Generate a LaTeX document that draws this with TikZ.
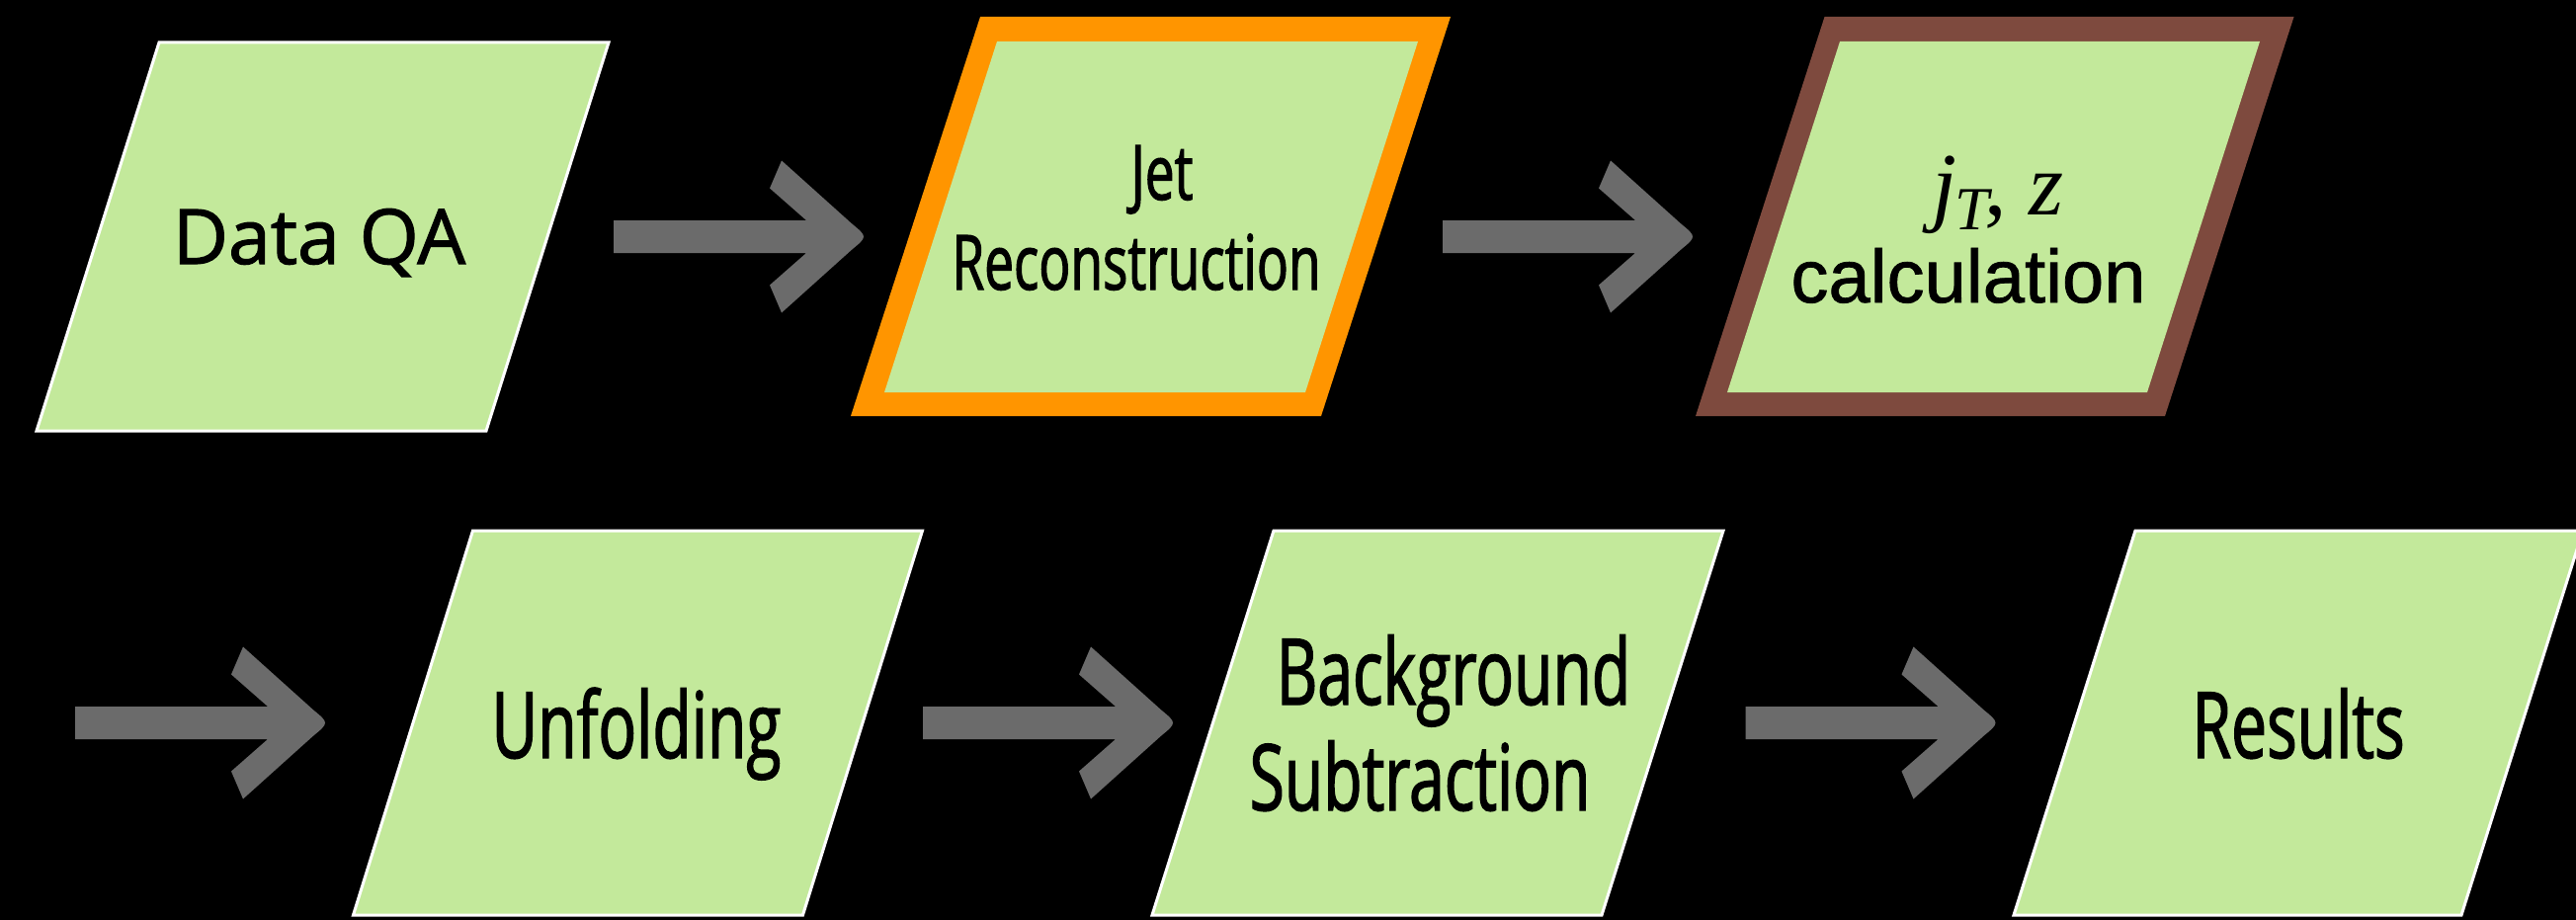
\documentclass[tikz,border=0pt]{standalone}
\usepackage{fontspec}
\newfontfamily\lbl{Open Sans}[FakeStretch=0.69,FakeBold=1.5]
\newfontfamily\lblwide{Open Sans}[FakeBold=1.5]
\newfontfamily\helv{Liberation Sans}[FakeBold=1]
\newfontfamily\tms{Liberation Serif}

\definecolor{boxgreen}{HTML}{C3E99B}
\definecolor{jetorange}{HTML}{FF9500}
\definecolor{calcbrown}{HTML}{7E4A3E}
\definecolor{arrowgrey}{HTML}{6B6B6B}

% slanted box: style, centre name, lower-left x, lower-left y, width, height, slant
\newcommand\parabox[7]{%
  \path[#1] (#3,#4) -- ++(#5,0) -- ++(#7,-#6) -- ++(-#5,0) -- cycle;
  \coordinate (#2) at ({#3+#5/2+#7/2},{#4-#6/2});
}
% block arrow starting at the tail coordinate #1
\newcommand\flowarrow[1]{%
  \begin{scope}[shift={(#1)}]
    \fill[arrowbody] (0,-16.5) -- (195,-16.5) -- (158,-49) -- (170,-77)
      -- (241,-13.2) .. controls (257,0) .. (241,13.2)
      -- (170,77) -- (158,49) -- (195,16.5) -- (0,16.5) -- cycle;
  \end{scope}
}

\tikzset{
  flowbox/.style={fill=boxgreen, draw=white, line width=3pt},
  innerbox/.style={fill=boxgreen},
  jetframe/.style={fill=jetorange},
  calcframe/.style={fill=calcbrown},
  arrowbody/.style={fill=arrowgrey},
  toplabel/.style={anchor=base, inner sep=0pt, text=black,
    font=\lbl\fontsize{77}{77}\selectfont},
  botlabel/.style={anchor=base, inner sep=0pt, text=black,
    font=\lbl\fontsize{93}{93}\selectfont},
}

\begin{document}
\begin{tikzpicture}[x=1pt,y=-1pt]
  \fill[black] (0,0) rectangle (2607,931);
  \useasboundingbox (0,0) rectangle (2607,931);

  % first row
  \parabox{flowbox}{qa}{37}{436}{455}{393}{124}
  \parabox{jetframe}{jetout}{861}{421}{476}{404}{131}
  \parabox{innerbox}{jet}{895}{397}{426}{355}{114}
  \parabox{calcframe}{calcout}{1716}{421}{475}{404}{130.5}
  \parabox{innerbox}{calc}{1748}{397}{425}{355}{114}

  % second row
  \parabox{flowbox}{unf}{357.5}{926}{455}{389}{121}
  \parabox{flowbox}{bkg}{1166}{926}{455}{389}{123}
  \parabox{flowbox}{res}{2038}{926}{453}{389}{123}

  % arrow tails
  \coordinate (a1) at (621,239.5);
  \coordinate (a2) at (1460,239.5);
  \coordinate (a3) at (76,731.5);
  \coordinate (a4) at (934,731.5);
  \coordinate (a5) at (1766.5,731.5);
  \flowarrow{a1}
  \flowarrow{a2}
  \flowarrow{a3}
  \flowarrow{a4}
  \flowarrow{a5}

  % labels
  \node[toplabel, font=\lblwide\fontsize{77}{77}\selectfont] (qatext) at (323,267) {Data QA};
  \node[toplabel] (jettext1) at (1176,202) {Jet};
  \node[toplabel] (jettext2) at (1150,293) {Reconstruction};
  \node[anchor=base, inner sep=0pt, text=black] (calctext1) at (2022,217)
    {\tms\itshape\fontsize{90}{90}\selectfont j\kern-2pt\raisebox{-15pt}{\fontsize{62}{62}\selectfont T}\kern-4pt\upshape, \itshape z};
  \node[anchor=base, inner sep=0pt, text=black, font=\helv\fontsize{76}{76}\selectfont]
    (calctext2) at (1992,306) {calculation};
  \node[botlabel] (unftext) at (644,767) {Unfolding};
  \node[botlabel] (bkgtext1) at (1471,713) {Background};
  \node[botlabel] (bkgtext2) at (1437,820) {Subtraction};
  \node[botlabel] (restext) at (2326,767) {Results};
\end{tikzpicture}
\end{document}
